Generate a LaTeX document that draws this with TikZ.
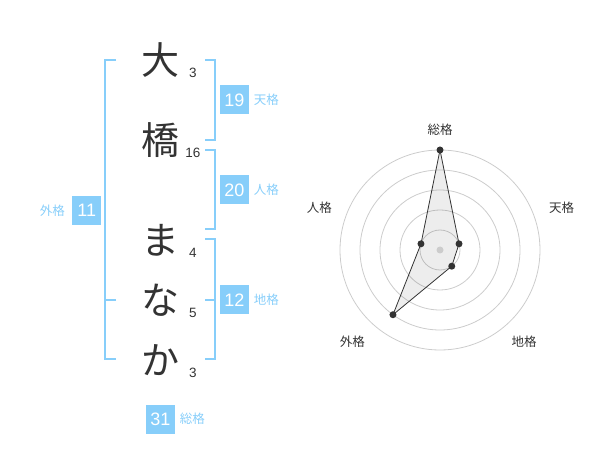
\documentclass[tikz,border=0pt]{standalone}
\usepackage{fontspec}
\setmainfont{Liberation Sans}
\newfontfamily\jpfont{Noto Sans CJK JP}
\usetikzlibrary{positioning,calc}
\definecolor{kakublue}{HTML}{87CEFA}
\definecolor{inkgray}{HTML}{333333}
\definecolor{ringgray}{HTML}{CCCCCC}

\begin{document}
\begin{tikzpicture}[x=1pt,y=-1pt,inner sep=0pt]

    \tikzstyle{moji}=[font=\jpfont\fontsize{38}{38}\selectfont,text=inkgray]
    \tikzstyle{kaku}=[font=\fontsize{13.5}{14}\selectfont,text=inkgray]
    \tikzstyle{score}=[fill=kakublue,text=white,minimum size=29pt,font=\fontsize{18}{18}\selectfont]
    \tikzstyle{tag}=[font=\jpfont\fontsize{12.5}{13}\selectfont,text=kakublue]
    \tikzstyle{bracket}=[draw=kakublue,line width=2pt]
    \tikzstyle{axislabel}=[font=\jpfont\fontsize{12.5}{13}\selectfont,text=inkgray]
    \tikzstyle{dot}=[circle,fill=inkgray,minimum size=7pt]

    \useasboundingbox (0,0) rectangle (600,470);

    % name
    \node[moji] (c1) at (160,60)  {大};
    \node[moji] (c2) at (160,140) {橋};
    \node[moji] (c3) at (160,240) {ま};
    \node[moji] (c4) at (160,300) {な};
    \node[moji] (c5) at (160,360) {か};

    \node[kaku] (n1) at (193,73)  {3};
    \node[kaku] (n2) at (193,153) {16};
    \node[kaku] (n3) at (193,253) {4};
    \node[kaku] (n4) at (193,313) {5};
    \node[kaku] (n5) at (193,373) {3};

    % brackets
    \coordinate (ten-a) at (205,60);   \coordinate (ten-b) at (205,140);
    \coordinate (jin-a) at (205,150);  \coordinate (jin-b) at (205,229);
    \coordinate (chi-a) at (205,239);  \coordinate (chi-m) at (205,300);
    \coordinate (chi-b) at (205,359);
    \coordinate (gai-a) at (116,60);   \coordinate (gai-m) at (116,300);
    \coordinate (gai-b) at (116,359);

    \draw[bracket] (ten-a) -- ++(9.7,0) |- (ten-b);
    \draw[bracket] (jin-a) -- ++(9.7,0) |- (jin-b);
    \draw[bracket] (chi-a) -- ++(9.7,0) |- (chi-b);
    \draw[bracket] (chi-m) -- ++(9.7,0);
    \draw[bracket] (gai-a) -- ++(-11.3,0) |- (gai-b);
    \draw[bracket] (gai-m) -- ++(-11.3,0);

    % scores
    \node[score] (s-ten) at (234.5,100) {19};
    \node[score] (s-jin) at (234.5,190) {20};
    \node[score] (s-chi) at (234.5,300) {12};
    \node[score] (s-gai) at (86.7,210.5) {11};
    \node[score] (s-sou) at (160.5,419) {31};

    \node[tag,right=4.5pt of s-ten] (t-ten) {天格};
    \node[tag,right=4.5pt of s-jin] (t-jin) {人格};
    \node[tag,right=4.5pt of s-chi] (t-chi) {地格};
    \node[tag,left=7pt of s-gai]    (t-gai) {外格};
    \node[tag,right=4.5pt of s-sou] (t-sou) {総格};

    % radar chart
    \coordinate (o) at (440,250);
    \foreach \r in {20,40,60,80,100}
        \draw[ringgray,line width=0.8pt] (o) circle[radius=\r pt];

    \coordinate (p-sou) at ($(o)+(-90:100)$);
    \coordinate (p-ten) at ($(o)+(-18:20)$);
    \coordinate (p-chi) at ($(o)+(54:20)$);
    \coordinate (p-gai) at ($(o)+(126:80)$);
    \coordinate (p-jin) at ($(o)+(198:20)$);

    \fill[black,fill opacity=0.07] (p-sou) -- (p-ten) -- (p-chi) -- (p-gai) -- (p-jin) -- cycle;
    \draw[inkgray,line width=0.8pt] (p-sou) -- (p-ten) -- (p-chi) -- (p-gai) -- (p-jin) -- cycle;

    \node[circle,fill=ringgray,minimum size=7pt] (centre) at (o) {};
    \node[dot] (d-sou) at (p-sou) {};
    \node[dot] (d-ten) at (p-ten) {};
    \node[dot] (d-chi) at (p-chi) {};
    \node[dot] (d-gai) at (p-gai) {};
    \node[dot] (d-jin) at (p-jin) {};

    \node[axislabel] (a-sou) at (440,130)   {総格};
    \node[axislabel] (a-ten) at (561.7,208) {天格};
    \node[axislabel] (a-chi) at (524,341.7) {地格};
    \node[axislabel] (a-gai) at (352.3,341.7) {外格};
    \node[axislabel] (a-jin) at (319.3,208) {人格};

\end{tikzpicture}
\end{document}
